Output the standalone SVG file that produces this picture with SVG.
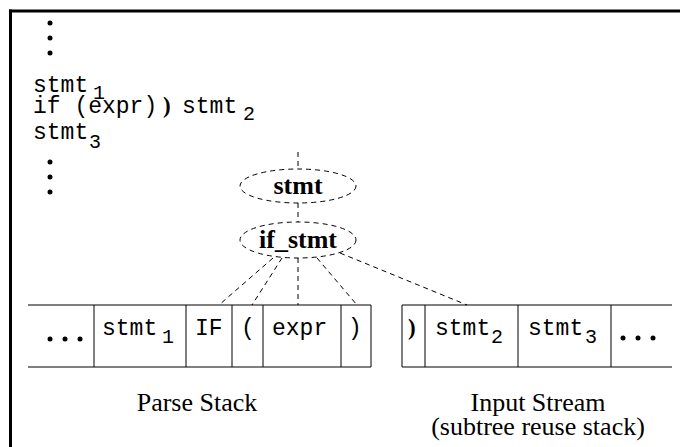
<svg xmlns="http://www.w3.org/2000/svg" width="680" height="447" viewBox="0 0 680 447">
<style>
.mono{font-family:"Liberation Mono","Courier New",monospace;font-size:23px;fill:#000}
.sub{font-family:"Liberation Mono","Courier New",monospace;font-size:20px;fill:#000}
.bp{font-family:"Liberation Serif","Times New Roman",serif;font-size:23px;font-weight:bold;fill:#000}
.ntext{font-family:"Liberation Serif","Times New Roman",serif;font-size:26px;font-weight:bold;fill:#000}
.label{font-family:"Liberation Serif","Times New Roman",serif;font-size:26px;fill:#000}
.node{fill:none;stroke:#000;stroke-width:1;stroke-dasharray:5,4}
.conn{fill:none;stroke:#000;stroke-width:1;stroke-dasharray:5,4}
.cell{fill:none;stroke:#000;stroke-width:1}
.dot{fill:#000}
</style>
<rect width="680" height="447" fill="#fff"/>
<g id="frame">
<line x1="9" y1="11" x2="680" y2="11" stroke="#000" stroke-width="3"/>
<line x1="10.5" y1="9.5" x2="10.5" y2="447" stroke="#000" stroke-width="3"/>
</g>
<g id="code">
<circle class="dot" cx="50" cy="23" r="2.5"/><circle class="dot" cx="50" cy="38" r="2.5"/><circle class="dot" cx="50" cy="53" r="2.5"/>
<text class="mono" x="33" y="92">stmt</text><text class="sub" x="93" y="99">1</text>
<text class="mono" x="33" y="113">if (expr)</text><text class="bp" x="163" y="113">)</text><text class="mono" x="182" y="113">stmt</text><text class="sub" x="243" y="120">2</text>
<text class="mono" x="33" y="139">stmt</text><text class="sub" x="89" y="148">3</text>
<circle class="dot" cx="50" cy="162" r="2.5"/><circle class="dot" cx="50" cy="177" r="2.5"/><circle class="dot" cx="50" cy="192" r="2.5"/>
</g>
<g id="connectors">
<line class="conn" x1="298" y1="152" x2="298" y2="169"/>
<line class="conn" x1="298" y1="203" x2="298" y2="222"/>
<line class="conn" x1="273" y1="258" x2="219" y2="305"/>
<line class="conn" x1="282" y1="258" x2="252" y2="305"/>
<line class="conn" x1="298" y1="258" x2="298" y2="305"/>
<line class="conn" x1="317" y1="258" x2="357" y2="305"/>
<line class="conn" x1="340" y1="253" x2="467" y2="305"/>
</g>
<g id="stmt">
<ellipse class="node" cx="298" cy="186" rx="58" ry="17"/>
<text class="ntext" x="298" y="194" text-anchor="middle">stmt</text>
</g>
<g id="if_stmt">
<ellipse class="node" cx="298" cy="240" rx="58" ry="18"/>
<text class="ntext" x="298" y="248" text-anchor="middle">if_stmt</text>
</g>
<g id="parse-stack">
<path class="cell" d="M28,305 H371 V367 H28 M94,305 V367 M186,305 V367 M232,305 V367 M263,305 V367 M341,305 V367"/>
<circle class="dot" cx="50" cy="339" r="2.5"/><circle class="dot" cx="65" cy="339" r="2.5"/><circle class="dot" cx="80" cy="339" r="2.5"/>
<text class="mono" x="102" y="335">stmt</text><text class="sub" x="162" y="343">1</text>
<text class="mono" x="195" y="335">IF</text>
<text class="mono" x="241" y="335">(</text>
<text class="mono" x="272" y="335">expr</text>
<text class="mono" x="348" y="335">)</text>
</g>
<g id="input-stream">
<path class="cell" d="M672,305 H402 V367 H672 M425,305 V367 M518,305 V367 M611,305 V367"/>
<text class="bp" x="408" y="335">)</text>
<text class="mono" x="435" y="335">stmt</text><text class="sub" x="491" y="343">2</text>
<text class="mono" x="528" y="335">stmt</text><text class="sub" x="585" y="343">3</text>
<circle class="dot" cx="623" cy="338" r="2.5"/><circle class="dot" cx="638" cy="338" r="2.5"/><circle class="dot" cx="653" cy="338" r="2.5"/>
</g>
<g id="labels">
<text class="label" x="197" y="411" text-anchor="middle">Parse Stack</text>
<text class="label" x="538" y="411" text-anchor="middle">Input Stream</text>
<text class="label" x="538" y="435" text-anchor="middle">(subtree reuse stack)</text>
</g>
</svg>
